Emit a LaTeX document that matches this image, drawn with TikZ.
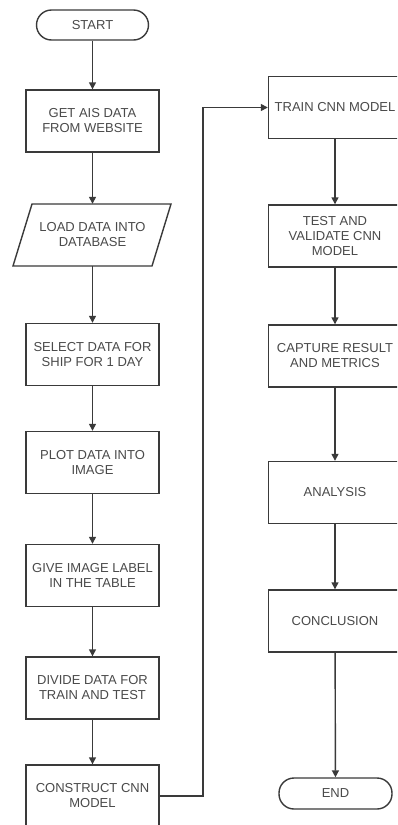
\documentclass[tikz,border=0pt]{standalone}
\usepackage{fontspec}
\setmainfont{Liberation Sans}
\usetikzlibrary{arrows.meta}
\definecolor{ln}{HTML}{3A3A3A}
\definecolor{tx}{HTML}{4A4A4A}
\tikzset{
  box/.style={draw=ln, line width=1.4pt, fill=white, minimum width=133pt, minimum height=62pt, align=center, text=tx, font=\fontsize{13}{15}\selectfont, inner sep=2pt},
  term/.style={draw=ln, line width=1.4pt, fill=white, rounded corners=15pt, minimum width=112pt, minimum height=30pt, align=center, text=tx, font=\fontsize{13}{15}\selectfont},
  plain/.style={align=center, text=tx, font=\fontsize{13}{15}\selectfont},
  conn/.style={draw=ln, line width=1.4pt, -{Triangle[length=7pt,width=7pt]}}
}
\begin{document}
\begin{tikzpicture}[x=1pt,y=-1pt]
\useasboundingbox (0,0) rectangle (397,825);
\clip (0,0) rectangle (397,825);
% left column
\node[term] (start) at (92.5,25) {START};
\node[box] (get) at (92.5,121) {GET AIS DATA\\FROM WEBSITE};
\draw[draw=ln, line width=1.4pt, fill=white] (32,204) -- (171,204) -- (152,266) -- (13,266) -- cycle;
\node[plain, minimum height=62pt] (load) at (92.5,235) {LOAD DATA INTO\\DATABASE};
\node[box] (select) at (92.5,354.5) {SELECT DATA FOR\\SHIP FOR 1 DAY};
\node[box] (plot) at (92.5,462.5) {PLOT DATA INTO\\IMAGE};
\node[box] (give) at (92.5,575.5) {GIVE IMAGE LABEL\\IN THE TABLE};
\node[box] (divide) at (92.5,688) {DIVIDE DATA FOR\\TRAIN AND TEST};
\node[box] (construct) at (92.5,796) {CONSTRUCT CNN\\MODEL};
% right column
\node[box] (train) at (335,107.5) {TRAIN CNN MODEL};
\node[box] (test) at (335,236) {TEST AND\\VALIDATE CNN\\MODEL};
\node[box] (capture) at (335,356) {CAPTURE RESULT\\AND METRICS};
\node[box] (analysis) at (335,492.5) {ANALYSIS};
\node[box] (conclusion) at (335,621) {CONCLUSION};
\node[term, minimum width=113pt, minimum height=31pt] (end) at (335.5,793.5) {END};
\coordinate (c1) at (203,796);
\coordinate (c2) at (203,107.5);
% connectors
\draw[conn] (start) -- (get);
\draw[conn] (get) -- (load);
\draw[conn] (load) -- (select);
\draw[conn] (select) -- (plot);
\draw[conn] (plot) -- (give);
\draw[conn] (give) -- (divide);
\draw[conn] (divide) -- (construct);
\draw[conn] (construct.east) -- (c1) -- (c2) -- (train.west);
\draw[conn] (train) -- (test);
\draw[conn] (test) -- (capture);
\draw[conn] (capture) -- (analysis);
\draw[conn] (analysis) -- (conclusion);
\draw[conn] (conclusion) -- (end);
\end{tikzpicture}
\end{document}
